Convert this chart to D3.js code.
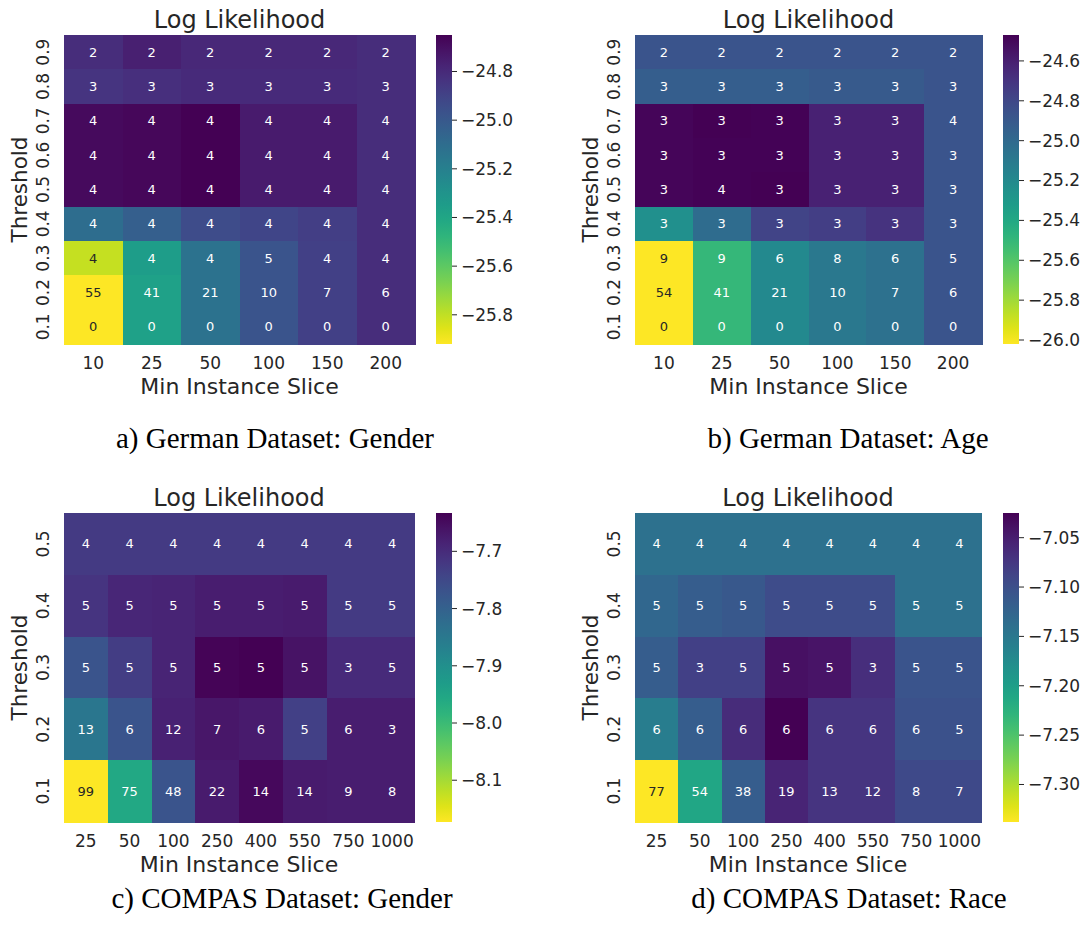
<!DOCTYPE html>
<html>
<head>
<meta charset="utf-8">
<script src="https://cdn.jsdelivr.net/npm/d3@7"></script>
<style>
  body { margin: 0; background: #fff; }
  svg text { font-family: "DejaVu Sans", sans-serif; fill: #262626; }
  .caption { font-family: "Liberation Serif", "Times New Roman", serif; fill: #000; }
</style>
</head>
<body>
<div id="chart"></div>
<script>
// categories
var germanSlices = ["10", "25", "50", "100", "150", "200"];
var compasSlices = ["25", "50", "100", "250", "400", "550", "750", "1000"];
var germanThresholds = ["0.9", "0.8", "0.7", "0.6", "0.5", "0.4", "0.3", "0.2", "0.1"];
var compasThresholds = ["0.5", "0.4", "0.3", "0.2", "0.1"];

// log likelihood (colour), rows top to bottom
var germanGenderLL = [
  [-24.81, -24.76, -24.79, -24.79, -24.79, -24.81],
  [-24.84, -24.82, -24.80, -24.80, -24.80, -24.81],
  [-24.68, -24.67, -24.65, -24.74, -24.74, -24.81],
  [-24.68, -24.67, -24.65, -24.74, -24.74, -24.81],
  [-24.68, -24.67, -24.65, -24.74, -24.74, -24.81],
  [-25.10, -25.03, -24.94, -24.91, -24.88, -24.81],
  [-25.81, -25.35, -25.13, -24.98, -24.89, -24.81],
  [-25.92, -25.37, -25.13, -24.98, -24.89, -24.81],
  [-25.92, -25.37, -25.13, -24.98, -24.89, -24.81]
];
var germanAgeLL = [
  [-24.87, -24.87, -24.87, -24.87, -24.87, -24.87],
  [-24.93, -24.93, -24.93, -24.90, -24.90, -24.87],
  [-24.49, -24.47, -24.48, -24.61, -24.61, -24.87],
  [-24.49, -24.48, -24.48, -24.61, -24.61, -24.87],
  [-24.49, -24.48, -24.47, -24.61, -24.61, -24.87],
  [-25.24, -25.01, -24.78, -24.75, -24.70, -24.87],
  [-26.02, -25.50, -25.20, -25.09, -25.04, -24.87],
  [-26.02, -25.50, -25.20, -25.09, -25.04, -24.87],
  [-26.02, -25.50, -25.20, -25.09, -25.04, -24.87]
];
var compasGenderLL = [
  [-7.725, -7.725, -7.725, -7.725, -7.725, -7.725, -7.725, -7.725],
  [-7.714, -7.692, -7.687, -7.676, -7.676, -7.671, -7.725, -7.725],
  [-7.773, -7.730, -7.687, -7.638, -7.633, -7.660, -7.698, -7.698],
  [-7.844, -7.773, -7.682, -7.665, -7.671, -7.736, -7.676, -7.676],
  [-8.173, -7.957, -7.773, -7.671, -7.644, -7.671, -7.676, -7.676]
];
var compasRaceLL = [
  [-7.141, -7.141, -7.141, -7.141, -7.141, -7.141, -7.141, -7.141],
  [-7.128, -7.116, -7.110, -7.097, -7.097, -7.097, -7.141, -7.141],
  [-7.116, -7.084, -7.084, -7.038, -7.041, -7.066, -7.106, -7.106],
  [-7.156, -7.116, -7.063, -7.025, -7.072, -7.072, -7.103, -7.103],
  [-7.338, -7.210, -7.116, -7.056, -7.072, -7.072, -7.094, -7.094]
];

// annotation counts, rows top to bottom
var germanGenderCount = [
  [2, 2, 2, 2, 2, 2],
  [3, 3, 3, 3, 3, 3],
  [4, 4, 4, 4, 4, 4],
  [4, 4, 4, 4, 4, 4],
  [4, 4, 4, 4, 4, 4],
  [4, 4, 4, 4, 4, 4],
  [4, 4, 4, 5, 4, 4],
  [55, 41, 21, 10, 7, 6],
  [0, 0, 0, 0, 0, 0]
];
var germanAgeCount = [
  [2, 2, 2, 2, 2, 2],
  [3, 3, 3, 3, 3, 3],
  [3, 3, 3, 3, 3, 4],
  [3, 3, 3, 3, 3, 3],
  [3, 4, 3, 3, 3, 3],
  [3, 3, 3, 3, 3, 3],
  [9, 9, 6, 8, 6, 5],
  [54, 41, 21, 10, 7, 6],
  [0, 0, 0, 0, 0, 0]
];
var compasGenderCount = [
  [4, 4, 4, 4, 4, 4, 4, 4],
  [5, 5, 5, 5, 5, 5, 5, 5],
  [5, 5, 5, 5, 5, 5, 3, 5],
  [13, 6, 12, 7, 6, 5, 6, 3],
  [99, 75, 48, 22, 14, 14, 9, 8]
];
var compasRaceCount = [
  [4, 4, 4, 4, 4, 4, 4, 4],
  [5, 5, 5, 5, 5, 5, 5, 5],
  [5, 3, 5, 5, 5, 3, 5, 5],
  [6, 6, 6, 6, 6, 6, 6, 5],
  [77, 54, 38, 19, 13, 12, 8, 7]
];

// colourbar tick labels
var germanGenderTicks = [-24.8, -25.0, -25.2, -25.4, -25.6, -25.8];
var germanAgeTicks = [-24.6, -24.8, -25.0, -25.2, -25.4, -25.6, -25.8, -26.0];
var compasGenderTicks = [-7.7, -7.8, -7.9, -8.0, -8.1];
var compasRaceTicks = [-7.05, -7.10, -7.15, -7.20, -7.25, -7.30];

var captions = ["a) German Dataset: Gender", "b) German Dataset: Age",
                "c) COMPAS Dataset: Gender", "d) COMPAS Dataset: Race"];

var width = 1089, height = 932;

var svg = d3.select("#chart").append("svg")
  .attr("width", width)
  .attr("height", height);

var defs = svg.append("defs");

function luminance(c) {
  var rgb = d3.rgb(c);
  var ch = [rgb.r, rgb.g, rgb.b].map(function(v) {
    v = v / 255;
    return v <= 0.03928 ? v / 12.92 : Math.pow((v + 0.055) / 1.055, 2.4);
  });
  return 0.2126 * ch[0] + 0.7152 * ch[1] + 0.0722 * ch[2];
}

function drawHeatmap(p, idx) {
  var flat = [].concat.apply([], p.values);
  var ext = d3.extent(flat);
  var color = d3.scaleSequential(d3.interpolateViridis).domain([ext[1], ext[0]]);

  var x = d3.scaleBand().domain(p.xCats).range([p.left, p.left + p.w]);
  var y = d3.scaleBand().domain(p.yCats).range([p.top, p.top + p.h]);

  var g = svg.append("g");

  var cells = [];
  p.values.forEach(function(row, i) {
    row.forEach(function(v, j) {
      cells.push({ x: p.xCats[j], y: p.yCats[i], v: v, n: p.counts[i][j] });
    });
  });

  g.selectAll("rect.cell")
    .data(cells)
    .enter().append("rect")
      .attr("class", "cell")
      .attr("x", function(d) { return x(d.x); })
      .attr("y", function(d) { return y(d.y); })
      .attr("width", x.bandwidth() + 1)
      .attr("height", y.bandwidth() + 1)
      .attr("shape-rendering", "crispEdges")
      .attr("fill", function(d) { return color(d.v); });

  g.selectAll("text.annot")
    .data(cells)
    .enter().append("text")
      .attr("class", "annot")
      .attr("x", function(d) { return x(d.x) + x.bandwidth() / 2; })
      .attr("y", function(d) { return y(d.y) + y.bandwidth() / 2; })
      .attr("dy", "0.35em")
      .attr("text-anchor", "middle")
      .style("font-size", "13px")
      .style("fill", function(d) { return luminance(color(d.v)) > 0.408 ? "#262626" : "#ffffff"; })
      .text(function(d) { return d.n; });

  // x tick labels
  g.selectAll("text.xtick")
    .data(p.xCats)
    .enter().append("text")
      .attr("class", "xtick")
      .attr("x", function(d) { return x(d) + x.bandwidth() / 2; })
      .attr("y", p.top + p.h + 19)
      .attr("dy", "0.35em")
      .attr("text-anchor", "middle")
      .style("font-size", "17px")
      .text(function(d) { return d; });

  // y tick labels (rotated)
  g.selectAll("text.ytick")
    .data(p.yCats)
    .enter().append("text")
      .attr("class", "ytick")
      .attr("transform", function(d) {
        return "translate(" + (p.left - 21) + "," + (y(d) + y.bandwidth() / 2) + ") rotate(-90)";
      })
      .attr("dy", "0.35em")
      .attr("text-anchor", "middle")
      .style("font-size", "17px")
      .text(function(d) { return d; });

  g.append("text")
    .attr("x", p.left + p.w / 2)
    .attr("y", p.top + p.h + 42)
    .attr("dy", "0.35em")
    .attr("text-anchor", "middle")
    .style("font-size", "22px")
    .text("Min Instance Slice");

  g.append("text")
    .attr("transform", "translate(" + (p.left - 45) + "," + (p.top + p.h / 2) + ") rotate(-90)")
    .attr("dy", "0.35em")
    .attr("text-anchor", "middle")
    .style("font-size", "21.5px")
    .text("Threshold");

  g.append("text")
    .attr("x", p.left + p.w / 2)
    .attr("y", p.top - 15)
    .attr("dy", "0.35em")
    .attr("text-anchor", "middle")
    .style("font-size", "24px")
    .text("Log Likelihood");

  // colourbar
  var gradId = "grad" + idx;
  var grad = defs.append("linearGradient")
    .attr("id", gradId)
    .attr("x1", 0).attr("y1", 1).attr("x2", 0).attr("y2", 0);
  d3.range(0, 1.0001, 0.05).forEach(function(t) {
    grad.append("stop")
      .attr("offset", t)
      .attr("stop-color", d3.interpolateViridis(1 - t));
  });

  var cb = d3.scaleLinear().domain(ext).range([p.top + p.h, p.top]);
  g.append("rect")
    .attr("x", p.cbLeft)
    .attr("y", p.top)
    .attr("width", 16)
    .attr("height", p.h)
    .attr("fill", "url(#" + gradId + ")");

  var fmt = d3.format(p.fmt);
  var tk = g.selectAll("g.cbtick")
    .data(p.ticks)
    .enter().append("g")
      .attr("class", "cbtick")
      .attr("transform", function(d) { return "translate(" + (p.cbLeft + 16) + "," + cb(d) + ")"; });
  tk.append("line")
    .attr("x1", 0).attr("x2", 5)
    .attr("stroke", "#262626")
    .attr("stroke-width", 1);
  tk.append("text")
    .attr("x", 9)
    .attr("dy", "0.35em")
    .style("font-size", "17px")
    .text(function(d) { return fmt(d); });
}

var panels = [
  { xCats: germanSlices, yCats: germanThresholds, values: germanGenderLL, counts: germanGenderCount,
    ticks: germanGenderTicks, fmt: ".1f", left: 64, top: 35, w: 351, h: 309, cbLeft: 436 },
  { xCats: germanSlices, yCats: germanThresholds, values: germanAgeLL, counts: germanAgeCount,
    ticks: germanAgeTicks, fmt: ".1f", left: 635, top: 35, w: 347, h: 309, cbLeft: 1003 },
  { xCats: compasSlices, yCats: compasThresholds, values: compasGenderLL, counts: compasGenderCount,
    ticks: compasGenderTicks, fmt: ".1f", left: 64, top: 513, w: 350, h: 309, cbLeft: 436 },
  { xCats: compasSlices, yCats: compasThresholds, values: compasRaceLL, counts: compasRaceCount,
    ticks: compasRaceTicks, fmt: ".2f", left: 635, top: 513, w: 346, h: 309, cbLeft: 1003 }
];

panels.forEach(drawHeatmap);

var capPos = [[275, 438], [848, 438], [282, 898], [849, 898]];
svg.selectAll("text.caption")
  .data(captions)
  .enter().append("text")
    .attr("class", "caption")
    .attr("x", function(d, i) { return capPos[i][0]; })
    .attr("y", function(d, i) { return capPos[i][1]; })
    .attr("dy", "0.35em")
    .attr("text-anchor", "middle")
    .style("font-size", "29px")
    .text(function(d) { return d; });
</script>
</body>
</html>
